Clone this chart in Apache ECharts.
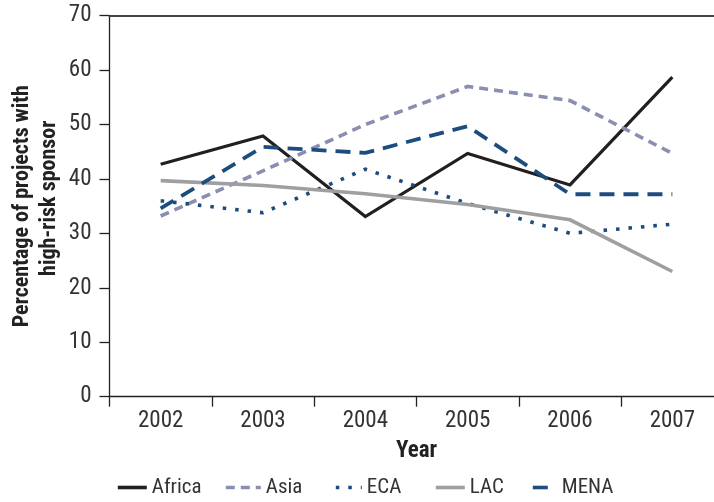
<!DOCTYPE html>
<html>
<head>
<meta charset="utf-8">
<script src="https://cdn.jsdelivr.net/npm/echarts@6/dist/echarts.min.js"></script>
<style>
html,body{margin:0;padding:0;background:#fff;}
#chart{width:714px;height:502px;}
</style>
</head>
<body>
<div id="chart"></div>
<script>
const years = ['2002', '2003', '2004', '2005', '2006', '2007'];
const africa = [42.7, 47.9, 33.1, 44.7, 38.9, 58.7];
const asia = [33.2, 41.5, 50.0, 57.0, 54.4, 44.7];
const eca = [36.0, 33.8, 41.8, 35.5, 30.0, 31.7];
const lac = [39.7, 38.8, 37.3, 35.3, 32.5, 23.0];
const mena = [34.6, 45.9, 44.8, 49.7, 37.2, 37.2];
const yTicks = { min: 0, max: 70, interval: 10 };

const FONT = "'Roboto Condensed', 'Liberation Sans Narrow', 'DejaVu Sans Condensed', 'Roboto', sans-serif";
const TXT = '#333333';

const chart = echarts.init(document.getElementById('chart'), null, { renderer: 'canvas' });

function line(name, data, color, width, type) {
  return {
    name: name, type: 'line', data: data, symbol: 'none', smooth: false,
    xAxisIndex: 0,
    lineStyle: { color: color, width: width, type: type, cap: 'butt', join: 'miter' },
    itemStyle: { color: color },
    emphasis: { disabled: true }
  };
}

function legendAt(name, left, w) {
  return {
    data: [name], left: left, top: 477, itemWidth: w, itemHeight: 20, itemGap: 0, padding: 0,
    textStyle: { fontFamily: FONT, fontSize: 21, color: TXT },
    itemStyle: { opacity: 0 },
    lineStyle: { width: 3.6 },
    selectedMode: false
  };
}

const titleStyle = { fontFamily: FONT, fontSize: 22, fontWeight: 'bold', color: '#222', lineHeight: 27 };

chart.setOption({
  animation: false,
  backgroundColor: '#ffffff',
  grid: { left: 109.5, top: 15.7, right: -9.5, bottom: 105.3, containLabel: false, outerBoundsMode: 'none' },
  legend: [
    legendAt('Africa', 116, 29),
    legendAt('Asia', 224, 35),
    legendAt('ECA', 334, 26),
    legendAt('LAC', 434, 29),
    legendAt('MENA', 531, 24)
  ],
  xAxis: [{
    type: 'category', data: years, boundaryGap: true, position: 'bottom',
    name: 'Year', nameLocation: 'middle', nameGap: 43, nameMoveOverlap: false,
    nameTextStyle: { fontFamily: FONT, fontSize: 23, fontWeight: 'bold', color: '#222' },
    axisLine: { show: true, lineStyle: { color: '#222', width: 1.3 } },
    axisTick: { show: true, length: 10, interval: 0, alignWithLabel: false, lineStyle: { color: '#222', width: 1.3 } },
    axisLabel: { fontFamily: FONT, fontSize: 23, color: TXT, margin: 13, interval: 0 },
    splitLine: { show: false }
  }, {
    type: 'category', data: years, boundaryGap: true, position: 'top',
    axisLine: { show: true, lineStyle: { color: '#444', width: 2 } },
    axisTick: { show: false }, axisLabel: { show: false }, splitLine: { show: false }
  }],
  yAxis: {
    type: 'value', min: yTicks.min, max: yTicks.max, interval: yTicks.interval,
    name: '{a|Percentage of projects with}\n{b|high-risk sponsor}', nameLocation: 'middle', nameGap: 47,
    nameMoveOverlap: false,
    nameTextStyle: Object.assign({}, titleStyle, {
      rich: {
        a: Object.assign({}, titleStyle),
        b: Object.assign({}, titleStyle, { padding: [0, 0, 0, 16] })
      }
    }),
    axisLine: { show: true, lineStyle: { color: '#222', width: 1.3 } },
    axisTick: { show: true, length: 10, lineStyle: { color: '#222', width: 1.3 } },
    axisLabel: { fontFamily: FONT, fontSize: 23, color: TXT, margin: 18 },
    splitLine: { show: false }
  },
  series: [
    line('Africa', africa, '#231f20', 3.2, 'solid'),
    line('Asia', asia, '#8a8eb0', 3.6, [9, 6]),
    line('ECA', eca, '#1d4b7c', 3.6, [3.5, 9]),
    line('LAC', lac, '#9e9fa1', 3.6, 'solid'),
    line('MENA', mena, '#1c4d7e', 3.8, [15, 9])
  ]
});
</script>
</body>
</html>
